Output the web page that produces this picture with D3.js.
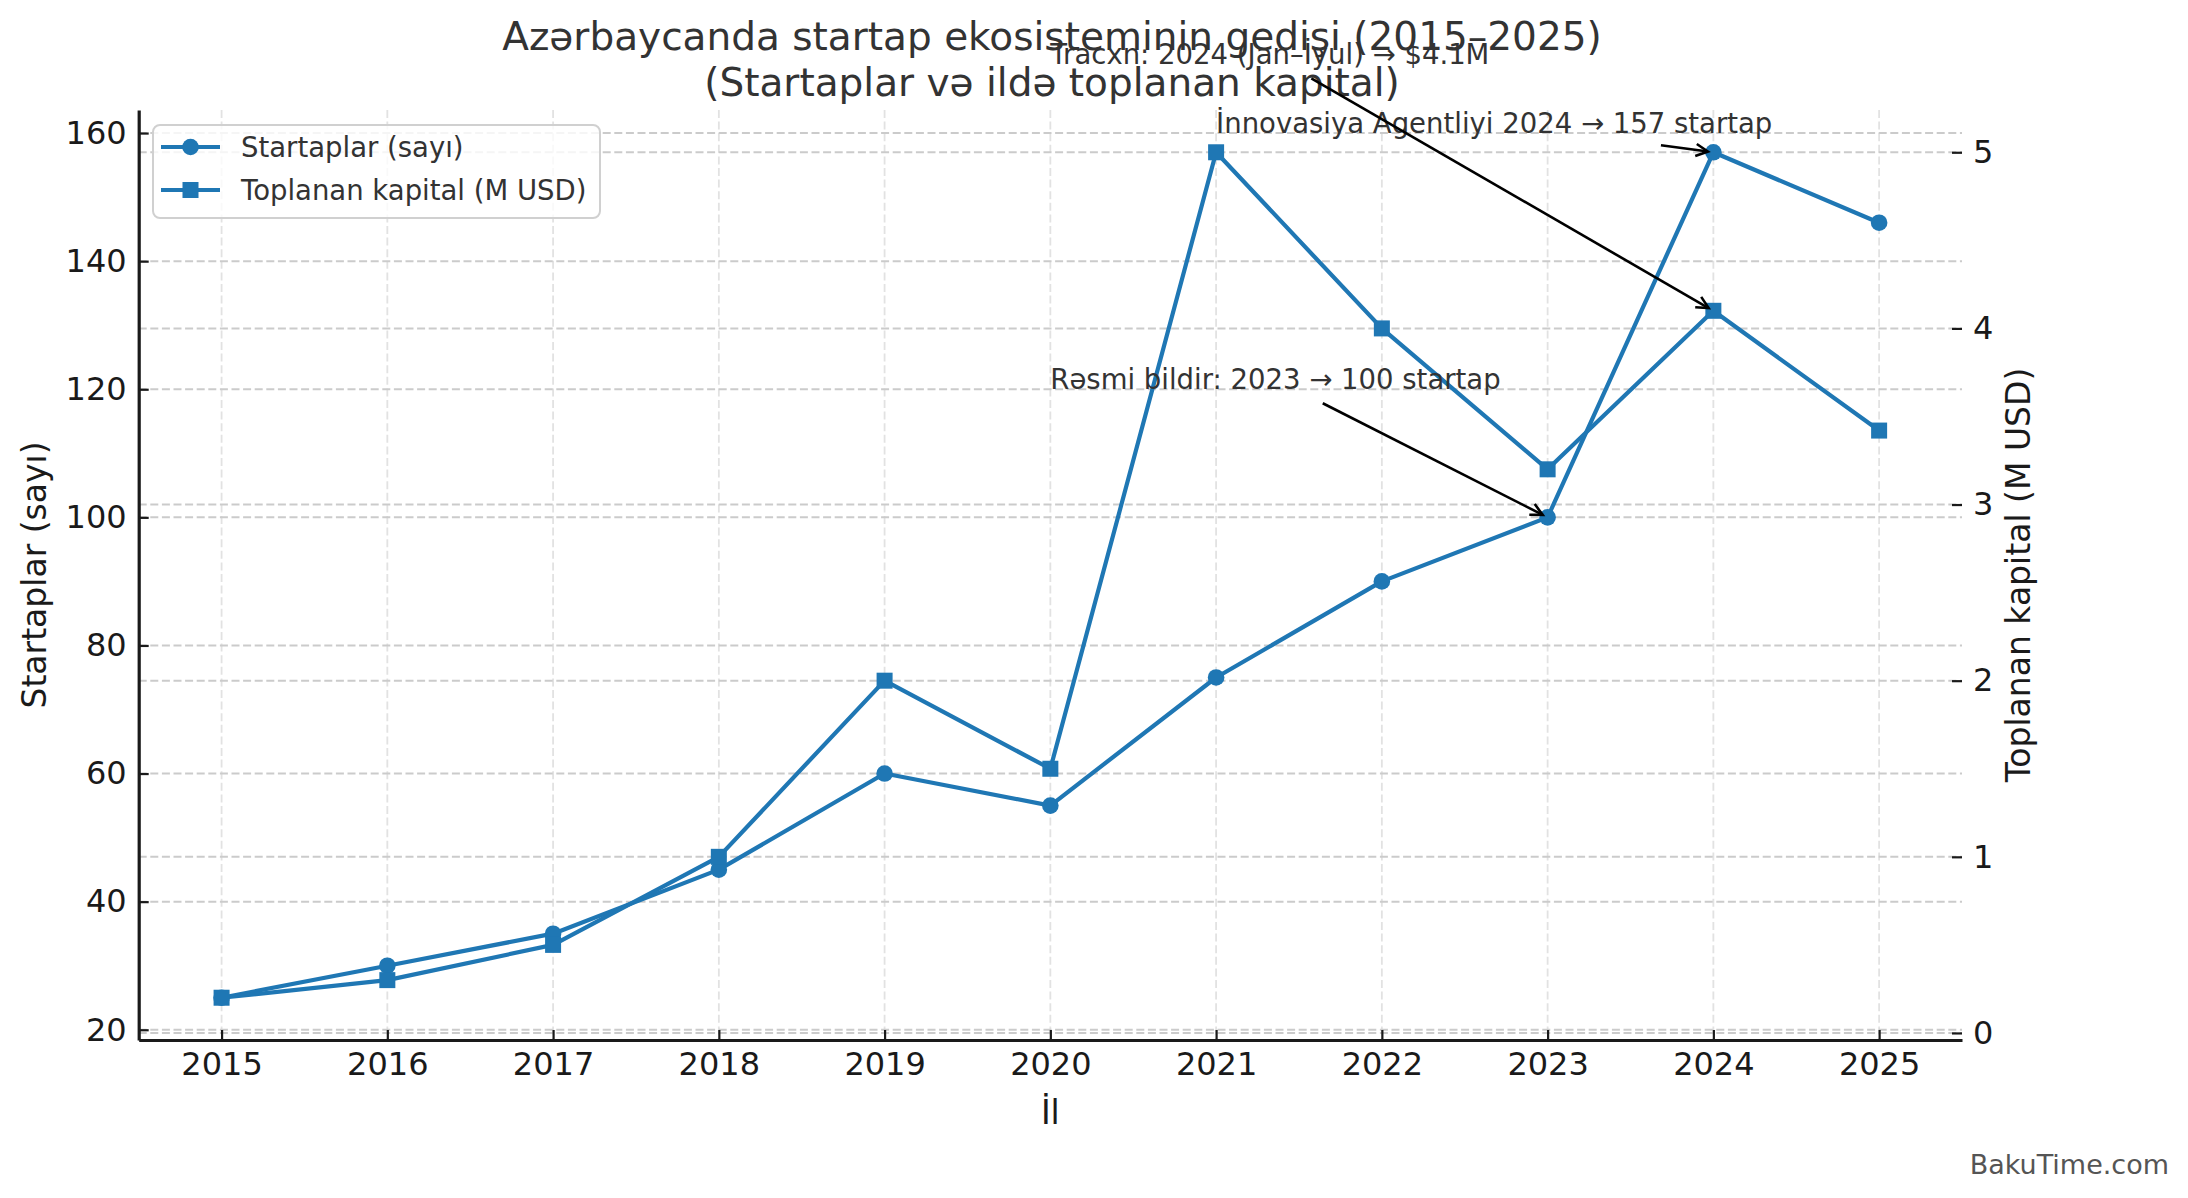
<!DOCTYPE html>
<html>
<head>
<meta charset="utf-8">
<script src="https://cdn.jsdelivr.net/npm/d3@7.9.0/dist/d3.min.js"></script>
<style>
  html, body { margin: 0; padding: 0; background: #fff; }
  svg { display: block; font-family: "DejaVu Sans", sans-serif; }
</style>
</head>
<body>
<svg id="chart" width="2188" height="1198"></svg>
<script>
// data
const years = [2015, 2016, 2017, 2018, 2019, 2020, 2021, 2022, 2023, 2024, 2025];
const startups = [25, 30, 35, 45, 60, 55, 75, 90, 100, 157, 146];
const capital = [0.2, 0.3, 0.5, 1.0, 2.0, 1.5, 5.0, 4.0, 3.2, 4.1, 3.42];
const leftTicks = [20, 40, 60, 80, 100, 120, 140, 160];
const rightTicks = [0, 1, 2, 3, 4, 5];

const titleLines = ["Azərbaycanda startap ekosisteminin gedişi (2015–2025)", "(Startaplar və ildə toplanan kapital)"];
const seriesNames = ["Startaplar (sayı)", "Toplanan kapital (M USD)"];

// annotations: text, text position, target point, which axis
const notes = [
  { text: "Rəsmi bildir: 2023 → 100 startap", tx: 2020, ty: 120, px: 2023, py: 100, axis: "left" },
  { text: "İnnovasiya Agentliyi 2024 → 157 startap", tx: 2021, ty: 160, px: 2024, py: 157, axis: "left" },
  { text: "Tracxn: 2024 (Jan–İyul) → $4.1M", tx: 2020, ty: 5.5, px: 2024, py: 4.1, axis: "right" }
];

const blue = "#1f77b4";
const svg = d3.select("#chart");

const plotLeft = 138.7, plotRight = 1962, plotTop = 110, plotBottom = 1040;

const x = d3.scaleLinear().domain([2014.5, 2025.5]).range([plotLeft, plotRight]);
const yL = d3.scaleLinear().domain([18.4, 163.6]).range([plotBottom, plotTop]);
const yR = d3.scaleLinear().domain([-0.04, 5.24]).range([plotBottom, plotTop]);

// grid
const grid = svg.append("g");
grid.selectAll(".vg").data(years).join("line")
  .attr("x1", d => x(d)).attr("x2", d => x(d))
  .attr("y1", plotTop).attr("y2", plotBottom)
  .attr("stroke", "#e2e2e2").attr("stroke-width", 1.8)
  .attr("stroke-dasharray", "8,3.6");
grid.selectAll(".hl").data(leftTicks).join("line")
  .attr("x1", plotLeft).attr("x2", plotRight)
  .attr("y1", d => yL(d)).attr("y2", d => yL(d))
  .attr("stroke", "#cbcbcb").attr("stroke-width", 2)
  .attr("stroke-dasharray", "8,3.6");
grid.selectAll(".hr").data(rightTicks).join("line")
  .attr("x1", plotLeft).attr("x2", plotRight)
  .attr("y1", d => yR(d)).attr("y2", d => yR(d))
  .attr("stroke", "#cbcbcb").attr("stroke-width", 2)
  .attr("stroke-dasharray", "8,3.6");

// axes
function styleAxis(g, keepDomain) {
  g.selectAll(".tick text").attr("font-size", 32).attr("fill", "#1a1a1a")
    .attr("font-family", "DejaVu Sans");
  g.selectAll(".tick line").attr("stroke", "#1a1a1a").attr("stroke-width", 2.2);
  if (keepDomain) {
    g.select(".domain").attr("stroke", "#1a1a1a").attr("stroke-width", 3.2);
  } else {
    g.select(".domain").remove();
  }
}

svg.append("g").attr("transform", `translate(0,${plotBottom})`)
  .call(d3.axisBottom(x).tickValues(years).tickFormat(d3.format("d"))
    .tickSizeInner(-10).tickSizeOuter(0).tickPadding(12))
  .call(g => styleAxis(g, true));

svg.append("g").attr("transform", `translate(${plotLeft},0)`)
  .call(d3.axisLeft(yL).tickValues(leftTicks).tickFormat(d3.format("d"))
    .tickSizeInner(-10).tickSizeOuter(0).tickPadding(12))
  .call(g => styleAxis(g, true));

svg.append("g").attr("transform", `translate(${plotRight},0)`)
  .call(d3.axisRight(yR).tickValues(rightTicks).tickFormat(d3.format("d"))
    .tickSizeInner(-10).tickSizeOuter(0).tickPadding(11))
  .call(g => styleAxis(g, false));

// axis labels
const midY = (plotTop + plotBottom) / 2;
svg.append("text").attr("x", (plotLeft + plotRight) / 2).attr("y", 1124)
  .attr("text-anchor", "middle").attr("font-size", 33).attr("fill", "#1a1a1a").text("İl");
svg.append("text").attr("transform", `translate(34,${midY}) rotate(-90)`)
  .attr("text-anchor", "middle").attr("dy", "0.35em").attr("font-size", 33).attr("fill", "#1a1a1a")
  .text(seriesNames[0]);
svg.append("text").attr("transform", `translate(2018,${midY}) rotate(-90)`)
  .attr("text-anchor", "middle").attr("dy", "0.35em").attr("font-size", 33).attr("fill", "#1a1a1a")
  .text(seriesNames[1]);

// lines
const lineL = d3.line().x((d, i) => x(years[i])).y(d => yL(d));
const lineR = d3.line().x((d, i) => x(years[i])).y(d => yR(d));

svg.append("path").attr("d", lineL(startups))
  .attr("fill", "none").attr("stroke", blue).attr("stroke-width", 4.2).attr("stroke-linejoin", "round");
svg.append("g").selectAll("circle").data(startups).join("circle")
  .attr("cx", (d, i) => x(years[i])).attr("cy", d => yL(d)).attr("r", 8.3).attr("fill", blue);

svg.append("path").attr("d", lineR(capital))
  .attr("fill", "none").attr("stroke", blue).attr("stroke-width", 4.2).attr("stroke-linejoin", "round");
svg.append("g").selectAll("rect").data(capital).join("rect")
  .attr("x", (d, i) => x(years[i]) - 8).attr("y", d => yR(d) - 8)
  .attr("width", 16).attr("height", 16).attr("fill", blue);

// legend
const legend = svg.append("g");
legend.append("rect").attr("x", 153).attr("y", 125).attr("width", 447).attr("height", 93)
  .attr("rx", 7).attr("fill", "#fff").attr("fill-opacity", 0.8)
  .attr("stroke", "#d0d0d0").attr("stroke-width", 2);
seriesNames.forEach((name, i) => {
  const cy = 147 + i * 43;
  legend.append("line").attr("x1", 161).attr("x2", 220).attr("y1", cy).attr("y2", cy)
    .attr("stroke", blue).attr("stroke-width", 4.2);
  if (i === 0) {
    legend.append("circle").attr("cx", 190.5).attr("cy", cy).attr("r", 8.3).attr("fill", blue);
  } else {
    legend.append("rect").attr("x", 182.5).attr("y", cy - 8).attr("width", 16).attr("height", 16).attr("fill", blue);
  }
  legend.append("text").attr("x", 241).attr("y", cy).attr("dy", "0.35em")
    .attr("font-size", 27.5).attr("fill", "#333").text(name);
});

// title
svg.append("text").attr("x", 1052).attr("text-anchor", "middle")
  .attr("font-size", 39).attr("fill", "#333")
  .selectAll("tspan").data(titleLines).join("tspan")
  .attr("x", 1052).attr("y", (d, i) => 50 + i * 46).text(d => d);

// annotations with arrows
const notesG = svg.append("g");
notes.forEach(n => {
  const ys = n.axis === "left" ? yL : yR;
  const t = notesG.append("text").attr("x", x(n.tx)).attr("y", ys(n.ty))
    .attr("font-size", 27.5).attr("fill", "#333").text(n.text);
  const bb = t.node().getBBox();
  const pad = 5.5;
  const bx0 = bb.x - pad, bx1 = bb.x + bb.width + pad;
  const by0 = bb.y - pad, by1 = bb.y + bb.height + pad;
  const cx = bb.x + bb.width / 2, cy = bb.y + bb.height / 2;
  const ex = x(n.px), ey = ys(n.py);
  const dx = ex - cx, dy = ey - cy;
  // exit point of the line from the padded text box
  let tEx = Infinity;
  if (dx !== 0) tEx = Math.min(tEx, ((dx > 0 ? bx1 : bx0) - cx) / dx);
  if (dy !== 0) tEx = Math.min(tEx, ((dy > 0 ? by1 : by0) - cy) / dy);
  const len = Math.hypot(dx, dy);
  const ux = dx / len, uy = dy / len;
  const sx = cx + dx * tEx + ux * 5.5, sy = cy + dy * tEx + uy * 5.5;
  const tx = ex - ux * 5.5, ty = ey - uy * 5.5;
  notesG.append("line").attr("x1", sx).attr("y1", sy).attr("x2", tx).attr("y2", ty)
    .attr("stroke", "#000").attr("stroke-width", 2.6);
  const hl = 12, hw = 6;
  const bxp = tx - ux * hl, byp = ty - uy * hl;
  notesG.append("path")
    .attr("d", `M${bxp - uy * hw},${byp + ux * hw}L${tx},${ty}L${bxp + uy * hw},${byp - ux * hw}`)
    .attr("fill", "none").attr("stroke", "#000").attr("stroke-width", 2.6);
});

// watermark
svg.append("text").attr("x", 2169).attr("y", 1174).attr("text-anchor", "end")
  .attr("font-size", 27).attr("fill", "#555").text("BakuTime.com");
</script>
</body>
</html>
